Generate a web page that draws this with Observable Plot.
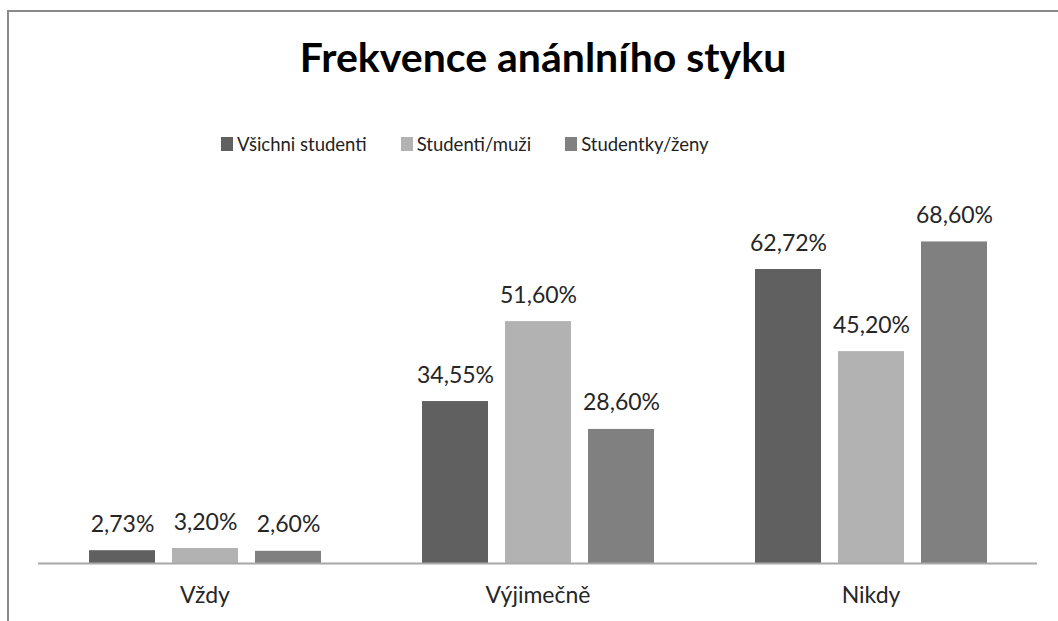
<!DOCTYPE html>
<html>
<head>
<meta charset="utf-8">
<script src="https://cdn.jsdelivr.net/npm/d3@7"></script>
<script src="https://cdn.jsdelivr.net/npm/@observablehq/plot@0.6"></script>
<style>
  html, body { margin: 0; padding: 0; background: #fff; }
  body { width: 1058px; height: 621px; overflow: hidden; position: relative; font-family: Lato, "Open Sans", sans-serif; }
  #frame { position: absolute; left: 7px; top: 10px; width: 1200px; height: 800px; border-left: 2px solid #8a8a8a; border-top: 2px solid #8a8a8a; }
  #title { position: absolute; left: 0; top: 35px; width: 1086px; text-align: center; font-size: 41px; font-weight: bold; color: #000; line-height: 44px; white-space: nowrap; }
  #legend { position: absolute; left: 221px; top: 132px; display: flex; gap: 34px; font-size: 18.5px; color: #222; line-height: 24px; }
  #legend .item { display: flex; align-items: center; gap: 4px; }
  #legend .sw { width: 12px; height: 14px; display: inline-block; }
  #chart { position: absolute; left: 0; top: 170px; }
</style>
</head>
<body>
<div id="frame"></div>
<div id="title">Frekvence anánlního styku</div>
<div id="legend"></div>
<div id="chart"></div>
<script>
const categories = ["Vždy", "Výjimečně", "Nikdy"];
const series = ["Všichni studenti", "Studenti/muži", "Studentky/ženy"];
const vsichniStudenti = [2.73, 34.55, 62.72];
const studentiMuzi = [3.20, 51.60, 45.20];
const studentkyZeny = [2.60, 28.60, 68.60];
const colors = ["#606060", "#b2b2b2", "#808080"];

const seriesValues = [vsichniStudenti, studentiMuzi, studentkyZeny];
const data = [];
categories.forEach((c, ci) => {
  series.forEach((s, si) => {
    data.push({cat: c, series: s, value: seriesValues[si][ci]});
  });
});
const fmt = v => v.toFixed(2).replace(".", ",") + "%";

// legend
const legend = document.getElementById("legend");
series.forEach((s, i) => {
  const item = document.createElement("div");
  item.className = "item";
  const sw = document.createElement("span");
  sw.className = "sw";
  sw.style.background = colors[i];
  const t = document.createElement("span");
  t.textContent = s;
  item.appendChild(sw);
  item.appendChild(t);
  legend.appendChild(item);
});

const chart = Plot.plot({
  width: 1058,
  height: 451,
  marginLeft: 37,
  marginRight: 20,
  marginTop: 18,
  marginBottom: 58,
  style: {fontFamily: "Lato, 'Open Sans', sans-serif", fontSize: "23px", color: "#262626", background: "transparent"},
  fx: {domain: categories, padding: 0, axis: "bottom", tickSize: 0, tickPadding: 23, label: null},
  x: {domain: series, paddingInner: 0.208, paddingOuter: 0.61, axis: null},
  y: {domain: [0, 80], axis: null},
  color: {domain: series, range: colors},
  marks: [
    Plot.barY(data, {fx: "cat", x: "series", y: "value", fill: "series"}),
    Plot.ruleY([0], {stroke: "#a8a8a8", strokeWidth: 2}),
    Plot.text(data, {fx: "cat", x: "series", y: "value", text: d => fmt(d.value), lineAnchor: "bottom", dy: -19, fill: "#262626", fontSize: 23})
  ]
});
document.getElementById("chart").appendChild(chart);
</script>
</body>
</html>
